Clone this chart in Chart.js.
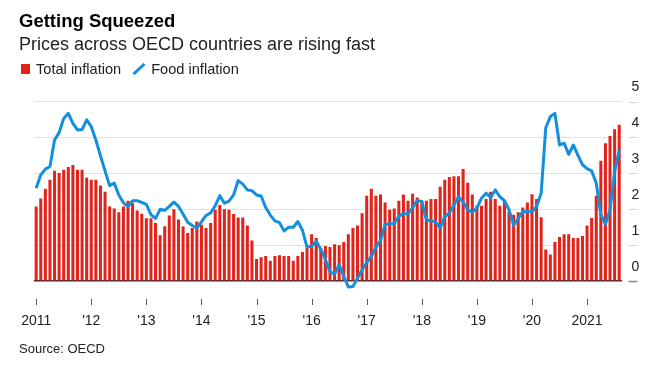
<!DOCTYPE html>
<html><head><meta charset="utf-8">
<script src="https://cdn.jsdelivr.net/npm/chart.js@4/dist/chart.umd.min.js"></script>
<style>
html,body{margin:0;padding:0;background:#fff;}
body{width:661px;height:376px;position:relative;overflow:hidden;font-family:"Liberation Sans",Arial,sans-serif;}
#wrap{position:absolute;left:0;top:0;width:661px;height:376px;}
.t{position:absolute;white-space:nowrap;line-height:1.15;}
</style></head><body>
<div id="wrap"><canvas id="c" width="661" height="376"></canvas></div>
<div class="t" style="left:19px;top:10px;font-size:18.5px;font-weight:bold;color:#000;">Getting Squeezed</div>
<div class="t" style="left:19px;top:34px;font-size:18px;color:#222;">Prices across OECD countries are rising fast</div>
<div class="t" style="left:21px;top:61px;font-size:14.6px;color:#222;display:flex;align-items:center;">
  <span style="display:inline-block;width:9px;height:10px;background:#e2231a;margin-right:6px;"></span>Total inflation
  <svg width="14" height="12" style="margin:0 5px 0 11px"><line x1="1.5" y1="11" x2="12.5" y2="1" stroke="#138fdc" stroke-width="3"/></svg>Food inflation
</div>
<div class="t" style="left:19px;top:342px;font-size:13px;color:#222;">Source: OECD</div>
<script>
const years = [2011,2012,2013,2014,2015,2016,2017,2018,2019,2020,2021];
const monthNames = ["Jan","Feb","Mar","Apr","May","Jun","Jul","Aug","Sep","Oct","Nov","Dec"];
const yearTickLabels = ["2011","'12","'13","'14","'15","'16","'17","'18","'19","'20","2021"];
const lastMonthCount2021 = 8;

const totalInflation = [
 2.08,2.30,2.57,2.82,3.07,3.01,3.10,3.18,3.23,3.10,3.10,2.88,
 2.82,2.82,2.66,2.49,2.08,2.02,1.92,2.08,2.24,2.17,1.97,1.88,
 1.75,1.75,1.62,1.28,1.53,1.83,2.00,1.72,1.52,1.34,1.48,1.66,
 1.57,1.48,1.62,1.99,2.12,2.01,1.99,1.87,1.77,1.77,1.55,1.13,
 0.62,0.67,0.70,0.57,0.70,0.72,0.70,0.70,0.57,0.70,0.81,0.94,
 1.31,1.20,0.90,0.98,0.95,1.03,1.00,1.09,1.31,1.48,1.55,1.89,
 2.38,2.57,2.38,2.41,2.19,1.99,2.02,2.24,2.41,2.24,2.43,2.33,
 2.24,2.24,2.29,2.29,2.63,2.82,2.90,2.92,2.92,3.12,2.74,2.41,
 2.10,2.10,2.29,2.49,2.29,2.10,2.22,1.94,1.85,1.92,2.05,2.19,
 2.42,2.29,1.78,0.88,0.74,1.09,1.23,1.31,1.31,1.20,1.20,1.26,
 1.55,1.76,2.38,3.35,3.84,4.04,4.23,4.35
];
const foodInflation = [
 2.59,2.96,3.12,3.19,3.93,4.14,4.53,4.67,4.39,4.21,4.22,4.49,
 4.30,3.93,3.49,3.07,2.66,2.73,2.40,2.18,2.08,2.24,2.24,2.19,
 2.14,1.85,1.75,2.00,1.97,2.08,2.20,2.08,1.87,1.64,1.55,1.48,
 1.65,1.83,1.90,2.10,2.38,2.17,2.23,2.40,2.80,2.70,2.54,2.52,
 2.40,2.37,2.05,1.84,1.68,1.63,1.40,1.50,1.50,1.66,1.42,0.95,
 0.97,1.11,0.89,0.60,0.26,0.20,0.46,0.13,-0.16,-0.15,0.09,0.32,
 0.52,0.69,0.95,1.13,1.58,1.60,1.60,1.81,1.88,1.88,2.04,2.25,
 2.22,1.70,1.68,1.65,1.48,1.80,1.89,2.12,2.35,2.20,1.99,1.92,
 2.03,2.31,2.45,2.33,2.54,2.35,2.24,1.99,1.55,1.75,1.94,1.93,
 1.94,2.08,2.45,4.27,4.58,4.67,3.79,3.84,3.53,3.79,3.51,3.24,
 3.13,3.07,2.73,1.85,1.59,1.99,3.05,3.65
];
const yTicks = [0,1,2,3,4,5];

const categories = [];
years.forEach(y => {
  const n = (y === 2021) ? lastMonthCount2021 : 12;
  for (let m = 0; m < n; m++) categories.push(monthNames[m] + " " + y);
});

const marks = {
  id: 'marks',
  afterDraw(chart) {
    const {ctx, scales: {x, y}, chartArea} = chart;
    ctx.save();
    ctx.lineWidth = 1;
    ctx.strokeStyle = '#555';
    categories.forEach((c, i) => {
      if (i % 12 === 0) {
        const px = Math.round(x.getPixelForValue(i)) + 0.5;
        ctx.beginPath();
        ctx.moveTo(px, chartArea.bottom + 7);
        ctx.lineTo(px, chartArea.bottom + 13);
        ctx.stroke();
      }
    });
    yTicks.forEach(v => {
      const py = Math.round(y.getPixelForValue(v)) + 0.5;
      ctx.strokeStyle = v === 0 ? '#888' : '#d6d6d6';
      ctx.lineWidth = v === 0 ? 1.5 : 1;
      ctx.beginPath();
      ctx.moveTo(chartArea.right + 7, py);
      ctx.lineTo(chartArea.right + 16, py);
      ctx.stroke();
    });
    ctx.restore();
  }
};

new Chart(document.getElementById('c'), {
  data: {
    labels: categories,
    datasets: [
      { type: 'line', label: 'Food inflation', data: foodInflation, borderColor: '#138fdc',
        borderWidth: 3, pointRadius: 0, tension: 0, borderJoinStyle: 'round', order: 0 },
      { type: 'bar', label: 'Total inflation', data: totalInflation, backgroundColor: '#e2231a',
        barPercentage: 0.66, categoryPercentage: 1, order: 1 }
    ]
  },
  options: {
    responsive: false,
    devicePixelRatio: 1,
    animation: false,
    layout: { padding: { left: 32, right: 0, top: 101.5, bottom: 44 } },
    plugins: { legend: { display: false }, tooltip: { enabled: false } },
    scales: {
      x: {
        type: 'category',
        offset: true,
        grid: { display: false, drawTicks: false },
        border: { display: false },
        ticks: {
          autoSkip: false, maxRotation: 0, minRotation: 0, padding: 21,
          color: '#222', font: { family: '"Liberation Sans", Arial, sans-serif', size: 14 },
          callback: (v, i) => (i % 12 === 0 ? yearTickLabels[i / 12] : null)
        },
        afterFit: s => { s.height = 40; }
      },
      y: {
        position: 'right',
        min: -0.3, max: 5,
        afterBuildTicks: s => { s.ticks = yTicks.map(v => ({ value: v })); },
        grid: {
          drawTicks: false,
          color: c => (c.tick && c.tick.value === 0) ? '#333' : '#e2e2e2',
          lineWidth: c => (c.tick && c.tick.value === 0) ? 1.5 : 1
        },
        border: { display: false },
        ticks: {
          padding: 10, labelOffset: -14, color: '#222',
          font: { family: '"Liberation Sans", Arial, sans-serif', size: 14 },
          callback: v => String(v)
        },
        afterFit: s => { s.width = 39.5; }
      }
    }
  },
  plugins: [marks]
});
</script>
</body></html>
